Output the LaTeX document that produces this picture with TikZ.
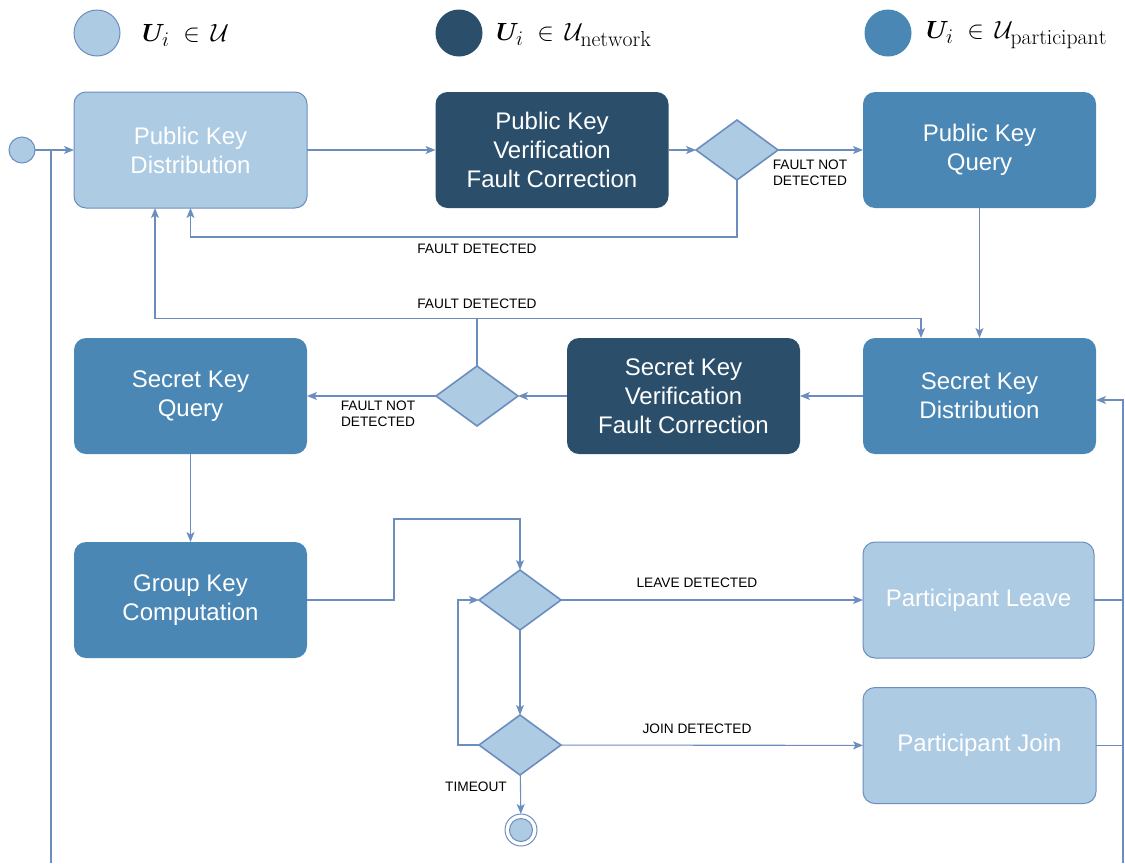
\documentclass[tikz,border=0pt]{standalone}
\usepackage{amsmath,bm}
\usepackage{fontspec}
\usetikzlibrary{arrows.meta,shapes.geometric}
\newfontfamily\arialfont{Liberation Sans}
\newcommand\myboxfont{\arialfont\fontsize{24}{29}\selectfont}
\newcommand\mylabfont{\arialfont\fontsize{13.7}{16}\selectfont}
\newcommand\mylegfont{\fontsize{31}{35}\selectfont}
\definecolor{lightc}{HTML}{ADCBE3}
\definecolor{darkc}{HTML}{2B4F6B}
\definecolor{midc}{HTML}{4A87B5}
\definecolor{edgec}{HTML}{6C8EBF}
\begin{document}
\begin{tikzpicture}[x=1pt,y=-1pt,
  line/.style={draw=edgec, line width=1.1pt},
  arr/.style={line, -{Stealth[length=10pt,width=8pt,inset=2.5pt]}},
  box/.style={rounded corners=12pt, minimum width=233pt, minimum height=116pt, text=white, font=\myboxfont, align=center, inner sep=0pt, outer sep=0pt},
  lightbox/.style={box, fill=lightc, draw=edgec, line width=1pt},
  darkbox/.style={box, fill=darkc},
  midbox/.style={box, fill=midc},
  dec/.style={diamond, fill=lightc, draw=edgec, line width=1.6pt, minimum width=82pt, minimum height=60pt, inner sep=0pt, outer sep=0pt},
  lab/.style={font=\mylabfont, align=center, text=black, inner sep=0pt},
  legtext/.style={font=\mylegfont, anchor=west, inner sep=0pt}
]
\useasboundingbox (0,0) rectangle (1125,863);

% legend
\node[circle, fill=lightc, draw=edgec, line width=1pt, minimum size=46pt, inner sep=0pt] (lg1) at (97,33) {};
\node[legtext] (lt1) at (142,35) {$\bm{U}_i\;\in\,\mathcal{U}$};
\node[circle, fill=darkc, minimum size=47pt, inner sep=0pt] (lg2) at (459,33) {};
\node[legtext] (lt2) at (496,35) {$\bm{U}_i\;\in\,\mathcal{U}_{\mathrm{network}}$};
\node[circle, fill=midc, minimum size=47pt, inner sep=0pt] (lg3) at (888,33) {};
\node[legtext] (lt3) at (926,35) {$\bm{U}_i\;\in\,\mathcal{U}_{\mathrm{participant}}$};

% nodes
\node[lightbox] (pkd) at (190.5,150) {Public Key\\Distribution};
\node[darkbox] (pkv) at (552,150) {Public Key\\Verification\\Fault Correction};
\node[dec] (d1) at (737,150) {};
\node[midbox] (pkq) at (979.5,150) {Public Key\\Query};
\node[midbox] (skd) at (979.5,396) {Secret Key\\Distribution};
\node[darkbox] (skv) at (683.5,396) {Secret Key\\Verification\\Fault Correction};
\node[dec] (d2) at (477,396) {};
\node[midbox] (skq) at (190.5,396) {Secret Key\\Query};
\node[midbox] (gkc) at (190.5,600) {Group Key\\Computation};
\node[dec] (d3) at (520,600) {};
\node[dec] (d4) at (520,745) {};
\node[lightbox, minimum width=231pt] (pl) at (978.5,600) {Participant Leave};
\node[lightbox] (pj) at (979.5,745.5) {Participant Join};
\node[circle, fill=lightc, draw=edgec, line width=1pt, minimum size=26pt, inner sep=0pt, outer sep=0pt] (st) at (22,150) {};
\node[circle, fill=white, draw=edgec, line width=1pt, minimum size=32pt, inner sep=0pt, outer sep=0pt] (en) at (521,830) {};
\node[circle, fill=lightc, draw=edgec, line width=1pt, minimum size=23pt, inner sep=0pt] (eni) at (en) {};

% coordinates
\coordinate (lb) at (51,863);
\coordinate (lj) at (51,150);
\coordinate (rb) at (1123,863);
\coordinate (rl) at (1123,600);
\coordinate (rj) at (1123,745.5);

% edges
\draw[arr] (st) -- (pkd);
\draw[line] (lb) -- (lj);
\draw[arr] (pkd) -- (pkv);
\draw[arr] (pkv) -- (d1);
\draw[arr] (d1) -- (pkq);
\draw[arr] (d1.south) -- ++(0,57) -| (pkd.south);
\draw[arr] (d2.north) -- ++(0,-47.5) -| ([xshift=-35.5pt]pkd.south);
\draw[arr] (d2.north) -- ++(0,-47.5) -| ([xshift=-58.5pt]skd.north);
\draw[arr] (pkq) -- (skd);
\draw[arr] (skd) -- (skv);
\draw[arr] (skv) -- (d2);
\draw[arr] (d2) -- (skq);
\draw[arr] (skq) -- (gkc);
\draw[arr] (gkc.east) -- (394,600) -- (394,519) -| (d3.north);
\draw[arr] (d3) -- (pl);
\draw[arr] (d3) -- (d4);
\draw[arr] (d4.west) -- (458,745) |- (d3.west);
\draw[arr] (d4) -- (pj);
\draw[arr] (d4) -- (en);
\draw[line] (pl.east) -- (rl);
\draw[line] (pj.east) -- (rj);
\draw[arr] (rb) |- ([yshift=-4pt]skd.east);

% labels
\node[lab] (l1) at (810,173) {FAULT NOT\\DETECTED};
\node[lab] (l2) at (477,249) {FAULT DETECTED};
\node[lab] (l3) at (477,304) {FAULT DETECTED};
\node[lab] (l4) at (378,414) {FAULT NOT\\DETECTED};
\node[lab] (l5) at (697,583) {LEAVE DETECTED};
\node[lab] (l6) at (697,729) {JOIN DETECTED};
\node[lab] (l7) at (476,787) {TIMEOUT};
\end{tikzpicture}
\end{document}
